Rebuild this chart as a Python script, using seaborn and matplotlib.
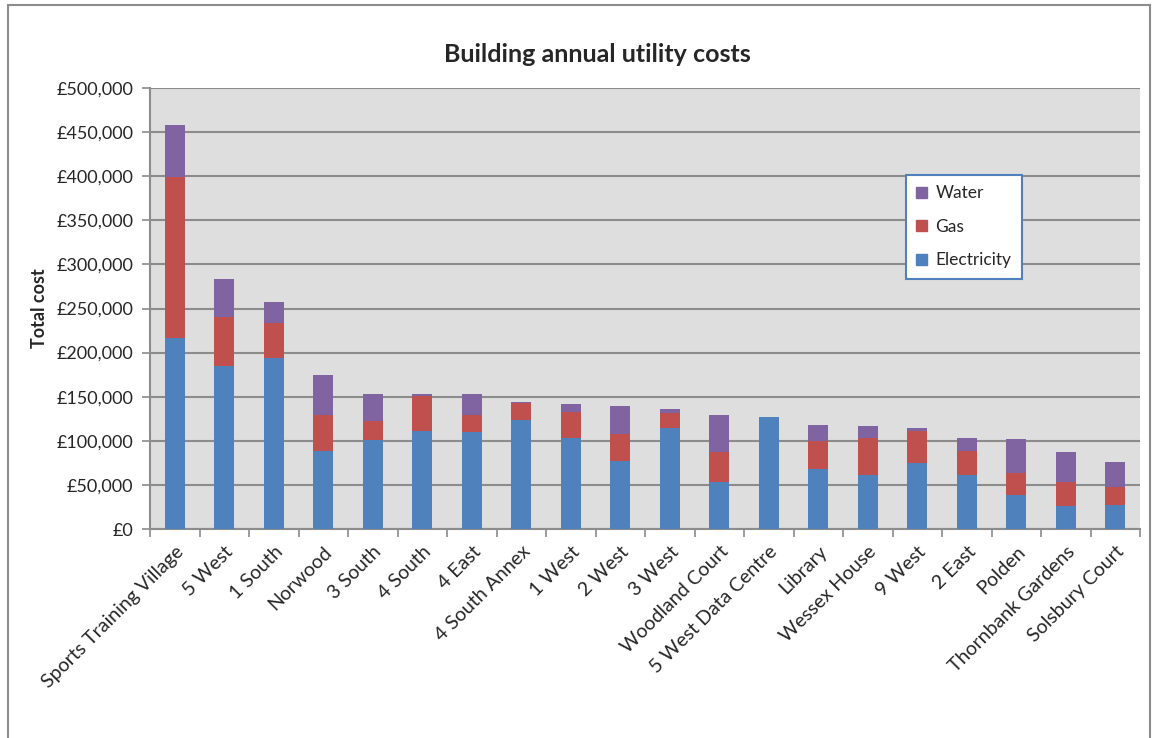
import numpy as np
import pandas as pd
import matplotlib.pyplot as plt
import matplotlib.patches as mpatches
from matplotlib.ticker import FuncFormatter, FixedLocator
import seaborn as sns

# Data
buildings = ['Sports Training Village', '5 West', '1 South', 'Norwood', '3 South',
             '4 South', '4 East', '4 South Annex', '1 West', '2 West', '3 West',
             'Woodland Court', '5 West Data Centre', 'Library', 'Wessex House',
             '9 West', '2 East', 'Polden', 'Thornbank Gardens', 'Solsbury Court']
electricity = [217000, 185000, 194000, 89000, 101000, 111000, 110000, 124000, 103000, 77000,
               115000, 53000, 127000, 68000, 61000, 75000, 61000, 39000, 26000, 27000]
gas = [182000, 55000, 39000, 40000, 21000, 40000, 19000, 19000, 30000, 31000,
       16000, 34000, 0, 32000, 42500, 36000, 28000, 24000, 27000, 21000]
water = [59000, 43000, 24000, 46000, 31000, 2000, 24000, 1500, 9000, 31000,
         5000, 42000, 0, 18000, 13000, 3000, 14500, 39000, 34000, 28000]

col_e = '#4F81BD'
col_g = '#C0504D'
col_w = '#8064A2'

df = pd.DataFrame({'Building': buildings, 'Electricity': electricity,
                   'Gas': gas, 'Water': water})
df['EG'] = df['Electricity'] + df['Gas']
df['Total'] = df['EG'] + df['Water']

sns.set_style('white')
plt.rcParams['font.family'] = ['Lato', 'DejaVu Sans']

fig = plt.figure(figsize=(11.52, 7.38), dpi=100)
ax = fig.add_axes([150 / 1152, 1 - 529 / 738, 990 / 1152, 441 / 738])
ax.set_facecolor('#DEDEDE')

# stacked bars: draw totals first, then cover with lower parts
for col, c in [('Total', col_w), ('EG', col_g), ('Electricity', col_e)]:
    sns.barplot(data=df, x='Building', y=col, color=c, width=0.4,
                saturation=1, ax=ax, zorder=3, linewidth=0)

ax.set_ylim(0, 500000)
ax.set_xlim(-0.5, len(buildings) - 0.5)
ax.set_yticks(np.arange(0, 500001, 50000))
ax.yaxis.set_major_formatter(FuncFormatter(lambda v, p: '£{:,.0f}'.format(v)))
ax.grid(axis='y', color='#8C8C8C', linewidth=1.5, zorder=0)
ax.set_axisbelow(True)

for s in ['top', 'right']:
    ax.spines[s].set_visible(False)
for s in ['left', 'bottom']:
    ax.spines[s].set_color('#8C8C8C')
    ax.spines[s].set_linewidth(1.5)

ax.tick_params(axis='y', which='major', length=6, width=1.2, color='#8C8C8C',
               labelsize=13, pad=6, left=True)
ax.set_xticks(range(len(buildings)))
ax.set_xticklabels(buildings, rotation=45, ha='right', rotation_mode='anchor', fontsize=14)
ax.tick_params(axis='x', which='major', length=0, pad=10)
ax.xaxis.set_minor_locator(FixedLocator(np.arange(-0.5, len(buildings), 1)))
ax.tick_params(axis='x', which='minor', length=6, width=1.2, color='#8C8C8C', bottom=True)

ax.set_xlabel('')
ax.set_ylabel('Total cost', fontsize=13, fontweight='bold', labelpad=6)
fig.text(597 / 1152, 1 - 55 / 738, 'Building annual utility costs', fontsize=18,
         fontweight='bold', ha='center', va='center')

handles = [mpatches.Patch(color=col_w, label='Water'),
           mpatches.Patch(color=col_g, label='Gas'),
           mpatches.Patch(color=col_e, label='Electricity')]
leg = ax.legend(handles=handles, loc='upper left',
                bbox_to_anchor=((906 - 150) / 990, (529 - 175) / 441),
                fontsize=12.5, frameon=True, fancybox=False, handlelength=0.6,
                handleheight=0.6, labelspacing=1.0, borderpad=0.6, handletextpad=0.5,
                borderaxespad=0)
leg.get_frame().set_edgecolor('#4F81BD')
leg.get_frame().set_linewidth(1.5)
leg.get_frame().set_facecolor('white')
leg.get_frame().set_alpha(1)

# outer chart border
fig.patches.append(mpatches.Rectangle((8 / 1152, -0.1), 1142 / 1152, 1.1 - 5 / 738,
                                      transform=fig.transFigure, fill=False,
                                      edgecolor='#8C8C8C', linewidth=1.5))

fig.savefig('out.png', dpi=100)
